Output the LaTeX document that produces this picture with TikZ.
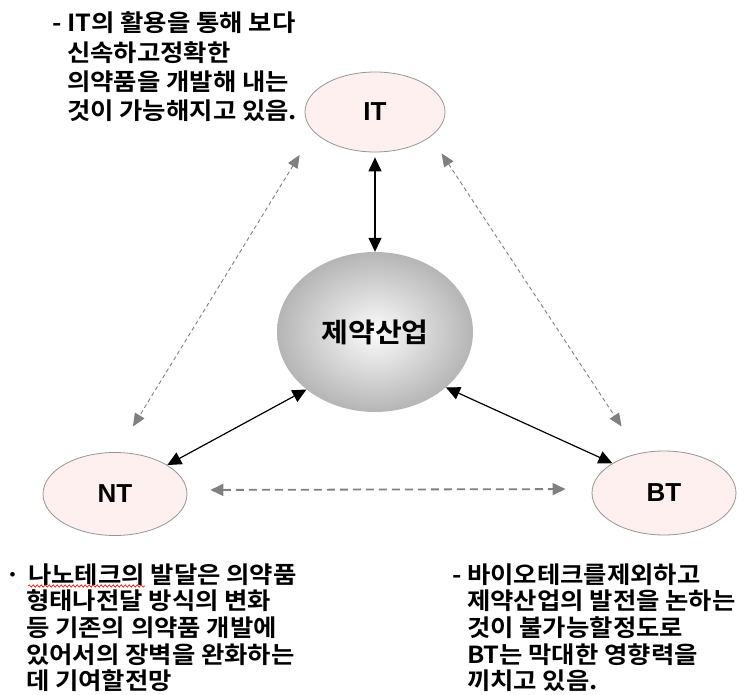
\documentclass[tikz,border=0pt]{standalone}
\usepackage{fontspec}
\newfontfamily\krfont[FakeStretch=1.08]{Noto Sans CJK KR Bold}
\newfontfamily\labfont{Liberation Sans}
\usetikzlibrary{shapes.geometric,arrows.meta,decorations.pathmorphing}
\definecolor{pinkfill}{RGB}{253,240,238}
\definecolor{edgegray}{RGB}{150,150,150}
\definecolor{dashgray}{RGB}{128,128,128}
\newcommand\krline[1]{\hbox{#1}}
\begin{document}
\begin{tikzpicture}[x=1pt,y=-1pt,
  tech/.style={ellipse, fill=pinkfill, draw=edgegray, line width=0.8pt, inner sep=0pt,
    font=\labfont\bfseries\fontsize{26}{30}\selectfont},
  core/.style={ellipse, shading=radial, inner color=gray!3, outer color=gray!58, inner sep=0pt,
    font=\krfont\fontsize{27}{32}\selectfont},
  note/.style={inner sep=0pt, anchor=base west, font=\krfont\fontsize{23.5}{26.7}\selectfont},
  solidarr/.style={line width=1.2pt, black,
    {Triangle[length=14pt,width=13pt]}-{Triangle[length=14pt,width=13pt]}},
  dasharr/.style={line width=0.9pt, dashgray, dash pattern=on 4pt off 3pt,
    {Triangle[length=13pt,width=11pt]}-{Triangle[length=13pt,width=11pt]}},
  dasharrb/.style={line width=1.8pt, dashgray, dash pattern=on 8pt off 5pt,
    {Triangle[length=13pt,width=12pt]}-{Triangle[length=13pt,width=12pt]}},
]
\fill[white] (0,0) rectangle (745,695);
\useasboundingbox (0,0) rectangle (745,695);

\node[tech, minimum width=140pt, minimum height=80pt] (it) at (375,112) {IT};
\node[core, minimum width=196pt, minimum height=160pt] (ce) at (375,332) {제약산업};
\node[tech, minimum width=144pt, minimum height=83pt] (nt) at (115,494) {NT};
\node[tech, minimum width=144pt, minimum height=84pt] (bt) at (664,493) {BT};

\draw[solidarr, shorten <=5pt] (it.south) -- (ce.north);
\draw[solidarr] (nt.29) -- (ce.220);
\draw[solidarr] (ce.322) -- (bt.150);

\draw[dasharr, shorten <=27pt, shorten >=30pt] (it.198) -- (nt.87);
\draw[dasharr, shorten <=20pt, shorten >=32pt] (it.336) -- (bt.122);
\draw[dasharrb, shorten <=23pt, shorten >=26pt] ([yshift=4pt]nt.east) -- ([yshift=4pt]bt.west);

\node[note, font=\krfont\fontsize{23.5}{29.3}\selectfont] (itnote) at (67,32) {\vtop{%
  \krline{\llap{- }IT의 활용을 통해 보다}%
  \krline{신속하고정확한}%
  \krline{의약품을 개발해 내는}%
  \krline{것이 가능해지고 있음.}}};

\node[note] (ntnote) at (26,583) {\vtop{%
  \krline{\llap{· }\kern2pt 나노테크의 발달은 의약품}%
  \krline{형태나전달 방식의 변화}%
  \krline{등 기존의 의약품 개발에}%
  \krline{있어서의 장벽을 완화하는}%
  \krline{데 기여할전망}}};

\node[note] (btnote) at (467,583) {\vtop{%
  \krline{\llap{- }바이오테크를제외하고}%
  \krline{제약산업의 발전을 논하는}%
  \krline{것이 불가능할정도로}%
  \krline{BT는 막대한 영향력을}%
  \krline{끼치고 있음.}}};

\draw[red, line width=0.6pt, decorate, decoration={snake, amplitude=1.2pt, segment length=4pt}]
  (28,586) -- (145,586);
\end{tikzpicture}
\end{document}
